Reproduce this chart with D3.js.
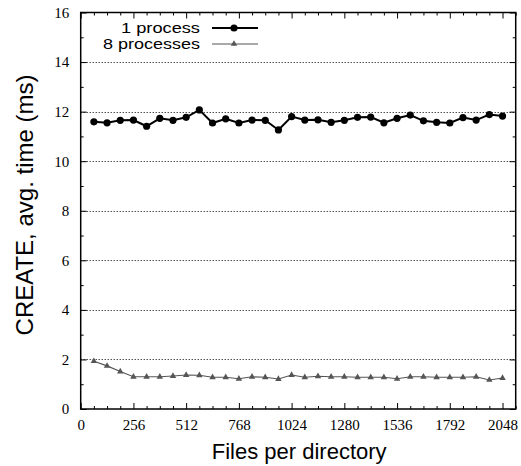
<!DOCTYPE html>
<html><head><meta charset="utf-8">
<script src="https://cdn.jsdelivr.net/npm/d3@7"></script>
<style>body{margin:0;background:#fff}svg{display:block}</style>
</head><body>
<script>
const filesPerDir = [64,128,192,256,320,384,448,512,576,640,704,768,832,896,960,1024,1088,1152,1216,1280,1344,1408,1472,1536,1600,1664,1728,1792,1856,1920,1984,2048];
const oneProcess = [11.59,11.55,11.65,11.66,11.41,11.73,11.65,11.77,12.07,11.54,11.71,11.54,11.66,11.65,11.26,11.80,11.66,11.67,11.57,11.65,11.77,11.78,11.55,11.73,11.86,11.63,11.57,11.54,11.76,11.66,11.88,11.82];
const eightProcesses = [1.93,1.74,1.51,1.30,1.30,1.30,1.33,1.37,1.36,1.28,1.28,1.22,1.30,1.28,1.21,1.37,1.28,1.32,1.30,1.30,1.28,1.28,1.28,1.22,1.30,1.30,1.28,1.28,1.28,1.30,1.17,1.25];
const xTicks = [0,256,512,768,1024,1280,1536,1792,2048];
const yTicks = [0,2,4,6,8,10,12,14,16];
const seriesNames = ["1 process","8 processes"];

const W=521,H=466;
const L=80.7,R=515.7,T=12.5,B=409;
const svg=d3.select("body").append("svg").attr("width",W).attr("height",H);
const x=d3.scaleLinear().domain([0,2112]).range([L,R]);
const y=d3.scaleLinear().domain([0,16]).range([B,T]);

// grid
svg.append("g").selectAll("line").data(yTicks.filter(v=>v>0&&v<16)).join("line")
  .attr("x1",L).attr("x2",R).attr("y1",d=>Math.round(y(d))+0.5).attr("y2",d=>Math.round(y(d))+0.5)
  .attr("stroke","#000").attr("stroke-width",1).attr("stroke-dasharray","1,2");

const xMinor=d3.range(0,2113,64).filter(v=>v%256!==0);
const yMinor=d3.range(0,17,1).filter(v=>v%2!==0);
function styleAxis(g){g.select(".domain").remove();g.selectAll("line").attr("stroke","#000");}
// bottom
svg.append("g").attr("transform",`translate(0,${B})`).call(d3.axisBottom(x).tickValues(xTicks).tickSizeInner(-6).tickSizeOuter(0).tickPadding(10).tickFormat(d3.format("d")))
  .call(styleAxis).selectAll("text").attr("font-family","Liberation Serif").attr("font-size",15).attr("fill","#000");
svg.append("g").attr("transform",`translate(0,${B})`).call(d3.axisBottom(x).tickValues(xMinor).tickSizeInner(-3).tickSizeOuter(0).tickFormat(""))
  .call(styleAxis);
// top
svg.append("g").attr("transform",`translate(0,${T})`).call(d3.axisTop(x).tickValues(xTicks).tickSizeInner(-6).tickSizeOuter(0).tickFormat("")).call(styleAxis);
svg.append("g").attr("transform",`translate(0,${T})`).call(d3.axisTop(x).tickValues(xMinor).tickSizeInner(-3).tickSizeOuter(0).tickFormat("")).call(styleAxis);
// left
svg.append("g").attr("transform",`translate(${L},0)`).call(d3.axisLeft(y).tickValues(yTicks).tickSizeInner(-6).tickSizeOuter(0).tickPadding(11.5).tickFormat(d3.format("d")))
  .call(styleAxis).selectAll("text").attr("font-family","Liberation Serif").attr("font-size",15).attr("fill","#000");
svg.append("g").attr("transform",`translate(${L},0)`).call(d3.axisLeft(y).tickValues(yMinor).tickSizeInner(-3).tickSizeOuter(0).tickFormat("")).call(styleAxis);
// right
svg.append("g").attr("transform",`translate(${R},0)`).call(d3.axisRight(y).tickValues(yTicks).tickSizeInner(-6).tickSizeOuter(0).tickFormat("")).call(styleAxis);
svg.append("g").attr("transform",`translate(${R},0)`).call(d3.axisRight(y).tickValues(yMinor).tickSizeInner(-3).tickSizeOuter(0).tickFormat("")).call(styleAxis);

// frame
svg.append("rect").attr("x",L).attr("y",T).attr("width",R-L).attr("height",B-T)
  .attr("fill","none").attr("stroke","#000").attr("stroke-width",1.5);

// series
const line=d3.line().x((d,i)=>x(filesPerDir[i])).y(d=>y(d));
svg.append("path").datum(oneProcess).attr("d",line).attr("fill","none").attr("stroke","#000").attr("stroke-width",2);
svg.append("g").selectAll("circle").data(oneProcess).join("circle")
  .attr("cx",(d,i)=>x(filesPerDir[i])).attr("cy",d=>y(d)).attr("r",3.6).attr("fill","#000");
svg.append("path").datum(eightProcesses).attr("d",line).attr("fill","none").attr("stroke","#555").attr("stroke-width",1.1);
const tri=d3.symbol().type(d3.symbolTriangle).size(18);
svg.append("g").selectAll("path").data(eightProcesses).join("path")
  .attr("transform",(d,i)=>`translate(${x(filesPerDir[i])},${y(d)})`).attr("d",tri).attr("fill","#555");

// legend
const lg=svg.append("g");
const rows=[{y:28,color:"#000",w:2,mark:"c"},{y:44,color:"#555",w:1.1,mark:"t"}];
rows.forEach((r,i)=>{
  lg.append("text").attr("x",200).attr("y",r.y).attr("dy","0.36em").attr("text-anchor","end")
    .attr("font-family","Liberation Sans").attr("font-size",15).attr("textLength",i===0?79:97).attr("lengthAdjust","spacingAndGlyphs").text(seriesNames[i]);
  lg.append("line").attr("x1",212).attr("x2",258).attr("y1",r.y).attr("y2",r.y).attr("stroke",r.color).attr("stroke-width",r.w);
  if(r.mark==="c") lg.append("circle").attr("cx",234).attr("cy",r.y).attr("r",3.6).attr("fill","#000");
  else lg.append("path").attr("transform",`translate(234,${r.y})`).attr("d",tri).attr("fill","#555");
});

// titles
svg.append("text").attr("x",(L+R)/2+1).attr("y",459).attr("text-anchor","middle")
  .attr("font-family","Liberation Sans").attr("font-size",22).text("Files per directory");
svg.append("text").attr("transform",`translate(33,205) rotate(-90)`).attr("text-anchor","middle")
  .attr("font-family","Liberation Sans").attr("font-size",24).text("CREATE, avg. time (ms)");
</script>
</body></html>
